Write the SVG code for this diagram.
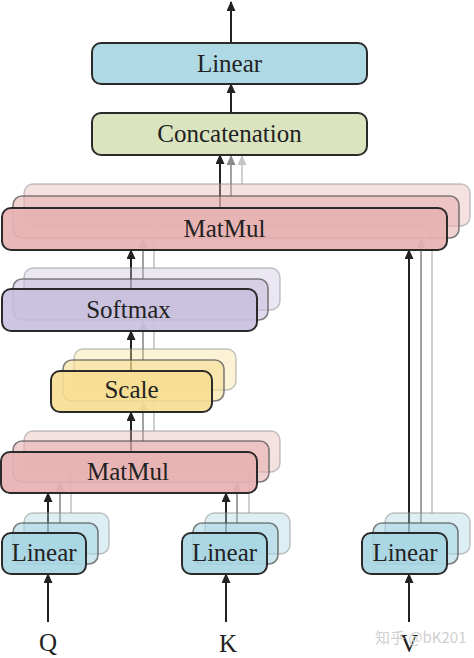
<svg xmlns="http://www.w3.org/2000/svg" width="474" height="658" viewBox="0 0 474 658">
<defs>
<style>
.lbl{font-family:"Liberation Serif","Times New Roman",serif;font-size:25px;fill:#222;text-anchor:middle}
.f{stroke:#2a2a2a;stroke-width:2;fill-opacity:0.92}
.m{stroke:#555;stroke-opacity:0.75;stroke-width:1.6;fill-opacity:0.6}
.b{stroke:#888;stroke-opacity:0.5;stroke-width:1.4;fill-opacity:0.38}
.blue{fill:#a8d6e3}.green{fill:#d7e2ba}.red{fill:#e7b1b1}.purple{fill:#c9c0de}.yellow{fill:#f6dd92}
.c1{stroke:#222;stroke-width:2;fill:none}
.c2{stroke:#8a8a8a;stroke-width:1.6;fill:none}
.c3{stroke:#c4c4c4;stroke-width:1.6;fill:none}
.wm{font-family:"Noto Sans CJK SC","Noto Sans",sans-serif;font-size:15px;fill:#d0d0d0}
</style>
<marker id="a1" markerUnits="userSpaceOnUse" markerWidth="10" markerHeight="10" refX="9" refY="4.5" orient="auto"><path d="M0,0 L10,4.5 L0,9 z" fill="#222"/></marker>
<marker id="a2" markerUnits="userSpaceOnUse" markerWidth="10" markerHeight="10" refX="9" refY="4.5" orient="auto"><path d="M0,0 L10,4.5 L0,9 z" fill="#8a8a8a"/></marker>
<marker id="a3" markerUnits="userSpaceOnUse" markerWidth="10" markerHeight="10" refX="9" refY="4.5" orient="auto"><path d="M0,0 L10,4.5 L0,9 z" fill="#c4c4c4"/></marker>
</defs>
<rect width="474" height="658" fill="#fff"/>
<g id="connectors">
<g class="c3" marker-end="url(#a3)">
<line x1="242" y1="184" x2="242" y2="156"/>
<line x1="154" y1="268" x2="154" y2="227"/>
<line x1="154" y1="349" x2="154" y2="310"/>
<line x1="154" y1="431" x2="154" y2="390"/>
<line x1="71" y1="513" x2="71" y2="472"/>
<line x1="249" y1="513" x2="249" y2="472"/>
<line x1="432" y1="513" x2="432" y2="227"/>
</g>
<g class="c2" marker-end="url(#a2)">
<line x1="231" y1="196" x2="231" y2="156"/>
<line x1="143" y1="279" x2="143" y2="239"/>
<line x1="143" y1="360" x2="143" y2="321"/>
<line x1="143" y1="441" x2="143" y2="401"/>
<line x1="60" y1="523" x2="60" y2="483"/>
<line x1="237" y1="523" x2="237" y2="483"/>
<line x1="421" y1="523" x2="421" y2="239"/>
</g>
<g class="c1" marker-end="url(#a1)">
<line x1="231" y1="43" x2="231" y2="2"/>
<line x1="231" y1="113" x2="231" y2="84"/>
<line x1="220" y1="208" x2="220" y2="155"/>
<line x1="131" y1="289" x2="131" y2="250"/>
<line x1="131" y1="371" x2="131" y2="331"/>
<line x1="131" y1="452" x2="131" y2="412"/>
<line x1="48" y1="533" x2="48" y2="493"/>
<line x1="226" y1="533" x2="226" y2="493"/>
<line x1="409" y1="533" x2="409" y2="250"/>
<line x1="48" y1="622" x2="48" y2="574"/>
<line x1="226" y1="622" x2="226" y2="574"/>
<line x1="409" y1="622" x2="409" y2="574"/>
</g>
</g>
<g id="linear-out">
<rect class="f blue" x="92" y="43" width="275" height="41" rx="9"/>
<text class="lbl" x="229.5" y="72">Linear</text>
</g>
<g id="concatenation">
<rect class="f green" x="92" y="113" width="275" height="42" rx="9"/>
<text class="lbl" x="229.5" y="142">Concatenation</text>
</g>
<g id="matmul-top">
<rect class="b red" x="24" y="184" width="446" height="42" rx="9"/>
<rect class="m red" x="13" y="196" width="446" height="42" rx="9"/>
<rect class="f red" x="2" y="208" width="445" height="42" rx="9"/>
<text class="lbl" x="224.5" y="237">MatMul</text>
</g>
<g id="softmax">
<rect class="b purple" x="24" y="268" width="256" height="42" rx="9"/>
<rect class="m purple" x="13" y="279" width="255" height="41" rx="9"/>
<rect class="f purple" x="2" y="289" width="255" height="42" rx="9"/>
<text class="lbl" x="128.5" y="318">Softmax</text>
</g>
<g id="scale">
<rect class="b yellow" x="74" y="349" width="162" height="41" rx="9"/>
<rect class="m yellow" x="63" y="360" width="161" height="41" rx="9"/>
<rect class="f yellow" x="51" y="371" width="161" height="41" rx="9"/>
<text class="lbl" x="131.5" y="398">Scale</text>
</g>
<g id="matmul-bottom">
<rect class="b red" x="24" y="431" width="256" height="41" rx="9"/>
<rect class="m red" x="13" y="441" width="256" height="41" rx="9"/>
<rect class="f red" x="1" y="452" width="256" height="41" rx="9"/>
<text class="lbl" x="128" y="480">MatMul</text>
</g>
<g id="linear-q">
<rect class="b blue" x="24" y="513" width="85" height="41" rx="9"/>
<rect class="m blue" x="13" y="523" width="85" height="41" rx="9"/>
<rect class="f blue" x="2" y="533" width="84" height="41" rx="9"/>
<text class="lbl" x="44" y="561">Linear</text>
</g>
<g id="linear-k">
<rect class="b blue" x="205" y="513" width="85" height="41" rx="9"/>
<rect class="m blue" x="193" y="523" width="85" height="41" rx="9"/>
<rect class="f blue" x="182" y="533" width="85" height="41" rx="9"/>
<text class="lbl" x="224.5" y="561">Linear</text>
</g>
<g id="linear-v">
<rect class="b blue" x="385" y="513" width="85" height="41" rx="9"/>
<rect class="m blue" x="373" y="523" width="85" height="41" rx="9"/>
<rect class="f blue" x="362" y="533" width="85" height="41" rx="9"/>
<text class="lbl" x="405" y="561">Linear</text>
</g>
<g id="input-q"><text class="lbl" x="48" y="651">Q</text></g>
<g id="input-k"><text class="lbl" x="228" y="652">K</text></g>
<g id="input-v"><text class="lbl" x="409" y="652">V</text></g>
<text class="wm" x="375" y="643">知乎 @bK201</text>
</svg>
